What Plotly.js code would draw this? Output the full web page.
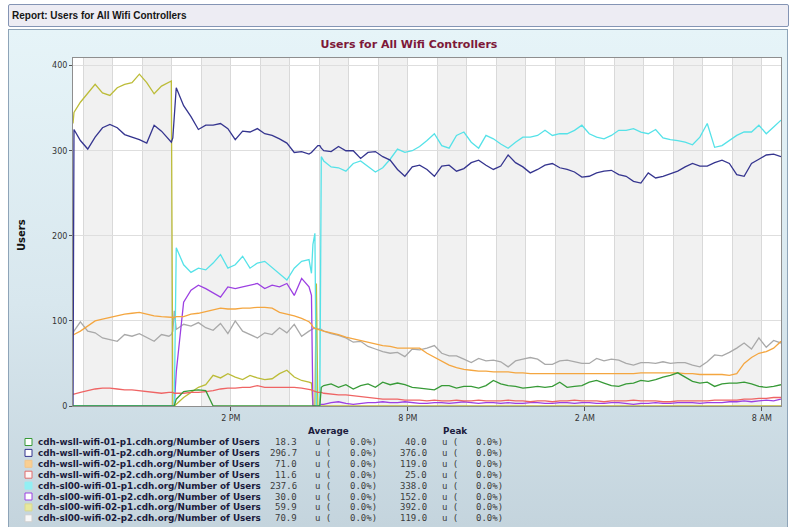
<!DOCTYPE html>
<html><head><meta charset="utf-8">
<script src="https://cdn.plot.ly/plotly-3.0.1.min.js"></script>
<style>
html,body{margin:0;padding:0;background:#fff;width:789px;height:527px;overflow:hidden;}
#hdr{position:absolute;left:8px;top:4px;width:776px;height:21px;background:#edecf3;border:1px solid #8494b4;border-radius:2px;font:bold 10px "Liberation Sans",Arial,sans-serif;color:#151515;line-height:21px;padding-left:3px;}
#panel{position:absolute;left:8px;top:29px;width:780px;height:498px;border:1px solid #8ea4b8;border-bottom:none;background:linear-gradient(#e6f4f8,#d8e7ee 55%,#c4d4dd);box-sizing:border-box;}
#chart{position:absolute;left:0;top:0;width:789px;height:527px;}
</style></head>
<body>
<div id="hdr">Report: Users for All Wifi Controllers</div>
<div id="panel"></div>
<div id="chart"></div>
<script>
// minutes after 08:39 (start of the 24 h window)
const minutes = [0,2,15,30,45,60,75,90,105,120,135,150,165,180,195,200,203,206,210,
225,240,255,270,285,300,315,330,345,360,375,390,405,420,435,450,465,480,
485,488,492,495,498,502,505,510,
525,540,555,570,585,600,615,630,645,660,675,690,705,720,735,750,765,780,795,810,825,840,
855,870,885,900,915,930,945,960,975,990,1005,1020,1035,1050,1065,1080,1095,1110,1125,1140,
1155,1170,1185,1200,1215,1230,1245,1260,1275,1290,1305,1320,1335,1350,1365,1380,1395,1410,1425,1440];

const wsll0101 = [
0,0,0,0,0,0,0,0,0,0,
0,0,0,0,0,0,0,0,8,17,
18,19,18,0,0,0,0,0,0,0,
0,0,0,0,0,0,0,0,0,0,
0,0,0,22,24,26,22,25,20,24,
26,22,28,25,27,25,22,21,20,19,
24,24,21,23,23,21,24,30,26,24,
23,21,22,23,22,23,28,22,23,24,
28,30,27,24,23,26,27,30,29,31,
34,36,39,34,29,27,28,23,26,27,
27,28,26,23,22,23,25];

const wsll0102 = [
0,325,312,302,316,327,331,327,319,316,
313,309,330,323,313,310,315,345,374,353,
340,325,330,330,332,326,313,323,322,326,
320,318,314,309,298,299,296,298,300,302,
304,306,306,303,300,299,305,300,300,291,
298,299,293,289,278,270,281,283,278,270,
282,283,276,279,286,289,283,278,282,295,
286,281,274,278,283,285,280,278,275,269,
270,274,276,277,272,270,264,262,274,268,
270,273,276,281,285,282,282,286,289,285,
272,270,285,290,295,296,293];

const wsll0201 = [
83,84,88,94,100,102,104,106,108,109,
110,108,106,105,104,104,104,104,105,105,
108,109,111,113,115,114,114,115,115,116,
116,115,110,108,106,103,99,96,93,91,
91,90,89,89,88,86,84,81,79,77,
75,73,71,70,68,68,68,68,62,57,
52,48,45,43,42,41,41,40,40,40,
39,39,38,38,38,38,38,38,38,38,
38,38,38,38,38,38,38,39,39,39,
39,39,39,38,38,37,37,37,37,36,
38,50,57,62,64,68,76];

const wsll0202 = [
14,14,16,18,20,21,21,20,19,19,
18,17,16,15,16,16,16,15,15,15,
16,16,17,18,20,21,21,22,22,24,
22,22,22,22,22,21,20,19,18,17,
17,16,16,16,15,14,13,13,12,11,
10,9,8,8,8,7,7,7,6,7,
6,6,7,6,6,7,6,6,6,7,
6,6,5,6,6,5,6,6,7,6,
6,6,5,6,6,6,7,6,6,6,
5,5,6,6,6,6,6,7,7,7,
7,8,8,9,9,10,10];

const sl0101 = [
0,0,0,0,0,0,0,0,0,0,
0,0,0,0,0,0,0,0,186,166,
157,162,160,168,178,162,166,176,162,168,
170,163,156,148,162,170,172,156,190,203,
0,0,0,293,288,281,280,276,285,288,
282,275,280,290,302,298,300,305,312,320,
306,303,318,322,310,303,318,314,308,303,
310,316,316,318,324,318,320,320,324,330,
320,316,314,318,324,324,326,322,320,325,
315,313,312,310,307,316,332,304,306,312,
318,322,322,330,320,328,336];

const sl0102 = [
0,0,0,0,0,0,0,0,0,0,
0,0,0,0,0,0,0,0,40,122,
136,142,138,133,128,140,138,140,142,144,
138,142,140,144,130,150,140,130,0,0,
0,0,1,2,2,4,5,3,2,3,
4,4,5,4,4,5,4,3,3,4,
4,3,4,5,4,3,4,4,3,4,
3,3,4,4,3,3,4,4,3,4,
4,3,3,4,4,3,2,3,3,4,
3,3,4,4,4,3,4,4,4,5,
5,6,5,6,7,6,8];

const sl0201 = [
332,345,357,368,378,368,365,374,378,380,
390,380,367,376,380,382,0,0,2,10,
16,22,25,36,33,38,34,31,36,33,
31,32,38,42,34,30,28,27,0,0,
144,0,0,0,0,0,0,0,0,0,
0,0,0,0,0,0,0,0,0,0,
0,0,0,0,0,0,0,0,0,0,
0,0,0,0,0,0,0,0,0,0,
0,0,0,0,0,0,0,0,0,0,
0,0,0,0,0,0,0,0,0,0,
0,0,0,0,0,0,0];

const sl0202 = [
85,88,99,88,86,80,78,76,84,82,
85,80,76,84,82,84,88,112,90,96,
94,98,92,89,97,85,100,88,84,80,
86,84,92,86,96,82,88,90,91,92,
91,90,91,90,88,85,83,80,75,76,
70,67,64,62,63,58,67,66,68,71,
62,59,59,55,51,56,53,54,52,46,
53,55,57,55,49,49,53,54,52,50,
50,56,53,55,54,50,48,51,51,50,
52,50,51,51,48,46,52,60,59,63,
68,74,67,80,69,77,74];

const seriesNames = [
'cdh-wsll-wifi-01-p1.cdh.org/Number of Users',
'cdh-wsll-wifi-01-p2.cdh.org/Number of Users',
'cdh-wsll-wifi-02-p1.cdh.org/Number of Users',
'cdh-wsll-wifi-02-p2.cdh.org/Number of Users',
'cdh-sl00-wifi-01-p1.cdh.org/Number of Users',
'cdh-sl00-wifi-01-p2.cdh.org/Number of Users',
'cdh-sl00-wifi-02-p1.cdh.org/Number of Users',
'cdh-sl00-wifi-02-p2.cdh.org/Number of Users'];
const averages = ['18.3','296.7','71.0','11.6','237.6','30.0','59.9','70.9'];
const peaks = ['40.0','376.0','119.0','25.0','338.0','152.0','392.0','119.0'];
const pctText = '0.0%)';

const series = [wsll0101, wsll0102, wsll0201, wsll0202, sl0101, sl0102, sl0201, sl0202];

// styles
const lineColors = ['#379a37','#35358f','#f4a640','#ef6464','#55e2e8','#9c40e2','#bcbc38','#a9a9a9'];
const boxFill = ['#ffffff','#ffffff','#f9cf92','#fff6f6','#92eff3','#ffffff','#e8e89c','#f8f8f8'];
const boxLine = ['#379a37','#35358f','#f2c58a','#e06a6a','#92eff3','#9c40e2','#d8d890','#cfcfcf'];

const L=73,R=781,T=58,B=406;
const px = x => (x-L)/(R-L);
const py = y => (B-y)/(B-T);

const startMs = Date.UTC(2013,2,4,8,39);
const endMs = startMs + 1440*60000;
const fmt = ms => new Date(ms).toISOString().slice(0,19).replace('T',' ');
const times = minutes.map(m => fmt(startMs + m*60000));

const traces = [];
for (let i = series.length-1; i >= 0; i--) {
  traces.push({x: times, y: series[i], type:'scatter', mode:'lines', name: seriesNames[i],
    line:{color: lineColors[i], width:1.3}, hoverinfo:'skip'});
}

const shapes = [];
for (let ms = Date.UTC(2013,2,4,9,0); ms < endMs; ms += 3600000) {
  const h = new Date(ms).getUTCHours();
  if (h % 2 === 1) {
    shapes.push({type:'rect', xref:'x', yref:'paper', x0: fmt(ms), x1: fmt(Math.min(ms+3600000,endMs)),
      y0:0, y1:1, fillcolor:'#f1f1f1', line:{width:0}, layer:'below'});
  }
}

const annotations = [];
const nameFont = {family:'DejaVu Sans', size:8.8, color:'#1b1b3c', weight:'bold'};
const numFont = {family:'DejaVu Sans Mono', size:9, color:'#3c3c3c'};
annotations.push({xref:'paper',yref:'paper',x:px(328),y:py(431),text:'Average',showarrow:false,xanchor:'center',yanchor:'middle',font:nameFont});
annotations.push({xref:'paper',yref:'paper',x:px(455),y:py(431),text:'Peak',showarrow:false,xanchor:'center',yanchor:'middle',font:nameFont});
annotations.push({xref:'paper',yref:'paper',x:px(21),y:py(235),text:'Users',textangle:-90,showarrow:false,xanchor:'center',yanchor:'middle',
  font:{family:'DejaVu Sans', size:10, color:'#111', weight:'bold'}});

for (let i = 0; i < series.length; i++) {
  const yc = 442 + 10.9*i;
  shapes.push({type:'rect', xref:'paper', yref:'paper', x0:px(25), x1:px(32), y0:py(yc+3.5), y1:py(yc-3.5),
    fillcolor: boxFill[i], line:{color: boxLine[i], width:1}});
  const row = [
    [37, seriesNames[i], 'left', nameFont],
    [298, averages[i], 'right', numFont],
    [314, 'u (', 'left', numFont],
    [378, pctText, 'right', numFont],
    [428, peaks[i], 'right', numFont],
    [441, 'u (', 'left', numFont],
    [504, pctText, 'right', numFont]
  ];
  row.forEach(r => annotations.push({xref:'paper', yref:'paper', x:px(r[0]), y:py(yc), text:r[1],
    showarrow:false, xanchor:r[2], yanchor:'middle', font:r[3], borderpad:0}));
}

const layout = {
  width:789, height:527,
  margin:{l:L, r:789-R, t:T, b:527-B, pad:0},
  paper_bgcolor:'rgba(0,0,0,0)', plot_bgcolor:'#ffffff',
  font:{family:'DejaVu Sans', size:8, color:'#333'},
  showlegend:false,
  title:{text:'<b>Users for All Wifi Controllers</b>', font:{family:'DejaVu Sans', size:11, color:'#7d1838'},
    xref:'container', x:409/789, xanchor:'center', yref:'container', y:1-44/527, yanchor:'middle'},
  xaxis:{type:'date', range:[fmt(startMs), fmt(endMs)], tick0:'2013-03-04 14:00', dtick:21600000,
    tickformat:'%-I %p', ticks:'outside', ticklen:4, tickcolor:'#555', showgrid:true, gridcolor:'#d9d9d9',
    minor:{dtick:3600000, tick0:'2013-03-04 14:00', showgrid:true, gridcolor:'#d9d9d9', ticks:''},
    showline:true, mirror:true, linecolor:'#8e8e8e', linewidth:1, zeroline:false,
    tickfont:{family:'DejaVu Sans', size:8, color:'#333'}, fixedrange:true},
  yaxis:{range:[0,409], dtick:100, tick0:0, ticks:'outside', ticklen:3, tickcolor:'#555',
    showgrid:true, gridcolor:'#dedede', zeroline:false, showline:true, mirror:true, linecolor:'#8e8e8e', linewidth:1,
    tickfont:{family:'DejaVu Sans', size:8, color:'#333'}, fixedrange:true},
  shapes: shapes,
  annotations: annotations
};

Plotly.newPlot('chart', traces, layout, {staticPlot:true, displayModeBar:false});
</script>
</body></html>
